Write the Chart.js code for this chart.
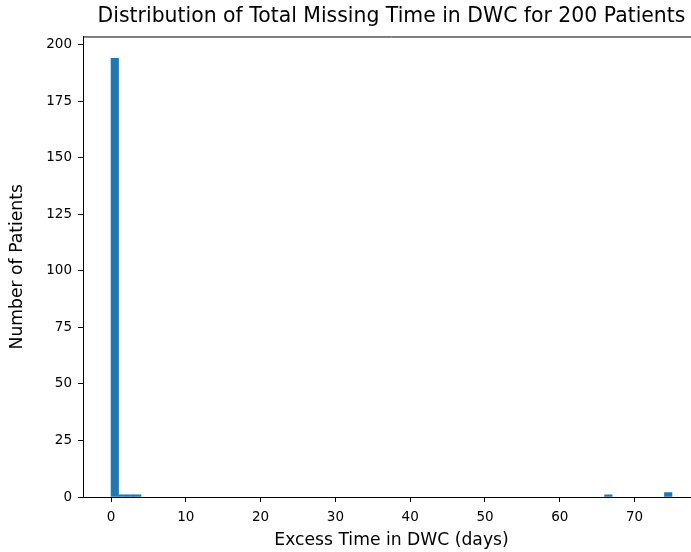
<!DOCTYPE html>
<html>
<head>
<meta charset="utf-8">
<script src="https://cdn.jsdelivr.net/npm/chart.js@4/dist/chart.umd.min.js"></script>
<style>
  html, body { margin: 0; padding: 0; background: #fff; overflow: hidden; }
  #wrap { width: 691px; height: 552px; overflow: hidden; }
</style>
</head>
<body>
<div id="wrap"><canvas id="histChart" width="854" height="552"></canvas></div>
<script>
// histogram bins (left edge, days) and patient counts
const binStarts = [0, 1, 2, 3, 66, 74];
const binCounts = [194, 1, 1, 1, 1, 2];
const binWidth = 1;
const xTicks = [0, 10, 20, 30, 40, 50, 60, 70];
const yTicks = [0, 25, 50, 75, 100, 125, 150, 175, 200];

const font = 'DejaVu Sans';

// matplotlib draws a box around the axes; the right side falls outside the picture
const topSpine = {
    id: 'topSpine',
    afterDraw(chart) {
        const { ctx, chartArea } = chart;
        ctx.save();
        ctx.strokeStyle = '#000';
        ctx.lineWidth = 1;
        ctx.beginPath();
        ctx.moveTo(chartArea.left, chartArea.top + 0.5);
        ctx.lineTo(chartArea.right, chartArea.top + 0.5);
        ctx.stroke();
        ctx.restore();
    }
};

new Chart(document.getElementById('histChart'), {
    type: 'bar',
    data: {
        datasets: [{
            label: 'Patients',
            data: binStarts.map((s, i) => ({ x: s + binWidth / 2, y: binCounts[i] })),
            backgroundColor: '#1f77b4',
            borderWidth: 0,
            barPercentage: 1,
            categoryPercentage: 1
        }]
    },
    plugins: [topSpine],
    options: {
        responsive: false,
        animation: false,
        layout: { padding: { left: 0, right: 154, top: 0, bottom: 0 } },
        plugins: {
            legend: { display: false },
            tooltip: { enabled: false },
            title: {
                display: true,
                fullSize: false,
                text: 'Distribution of Total Missing Time in DWC for 200 Patients',
                color: '#000',
                font: { family: font, size: 20.4, weight: 'normal' },
                padding: { top: 4, bottom: 8 }
            }
        },
        scales: {
            x: {
                type: 'linear',
                min: -3.75,
                max: 78.75,
                offset: false,
                afterBuildTicks: s => { s.ticks = xTicks.map(v => ({ value: v })); },
                afterFit: s => { s.height = 55; },
                ticks: { color: '#000', font: { family: font, size: 13.5 }, padding: 7, maxRotation: 0 },
                grid: { display: true, offset: false, drawOnChartArea: false, drawTicks: true, tickLength: 5, color: '#000' },
                border: { display: true, color: '#000', width: 1 },
                title: {
                    display: true,
                    text: 'Excess Time in DWC (days)',
                    color: '#000',
                    font: { family: font, size: 17.2 },
                    padding: { top: 0, bottom: 1.5 }
                }
            },
            y: {
                min: 0,
                max: 203.7,
                afterBuildTicks: s => { s.ticks = yTicks.map(v => ({ value: v })); },
                afterFit: s => { s.width = 83; },
                ticks: { color: '#000', font: { family: font, size: 13.5 }, padding: 6 },
                grid: { display: true, offset: false, drawOnChartArea: false, drawTicks: true, tickLength: 5, color: '#000' },
                border: { display: true, color: '#000', width: 1 },
                title: {
                    display: true,
                    text: 'Number of Patients',
                    color: '#000',
                    font: { family: font, size: 17.2 },
                    padding: { top: 7.5, bottom: 0 }
                }
            }
        }
    }
});
</script>
</body>
</html>
